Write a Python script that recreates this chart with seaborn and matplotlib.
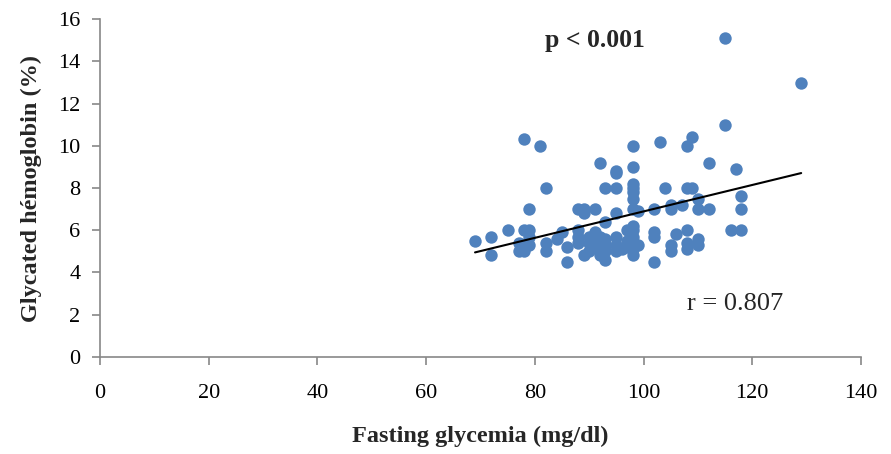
import numpy as np
import pandas as pd
import matplotlib
matplotlib.use("Agg")
import matplotlib.pyplot as plt
import seaborn as sns

# Fasting glycemia (mg/dl) vs glycated haemoglobin (%)
glycemia = [69, 72, 72, 75, 77, 77, 78, 78, 78, 79, 79, 79, 79, 81, 82, 82, 82,
            84, 85, 86, 86, 88, 88, 88, 88, 89, 89, 89, 90, 90, 90, 91, 91, 91,
            92, 92, 92, 92, 92, 93, 93, 93, 93, 93, 93, 95, 95, 95, 95, 95, 95,
            95, 96, 97, 97, 97, 98, 98, 98, 98, 98, 98, 98, 98, 98, 98, 98, 98,
            98, 99, 99, 102, 102, 102, 102, 103, 104, 105, 105, 105, 105, 106,
            107, 108, 108, 108, 108, 108, 109, 109, 110, 110, 110, 110, 112, 112,
            115, 115, 116, 117, 118, 118, 118, 129]
hba1c = [5.5, 5.7, 4.8, 6.0, 5.4, 5.0, 6.0, 5.0, 10.3, 7.0, 6.0, 5.7, 5.3, 10.0,
         8.0, 5.4, 5.0, 5.6, 5.9, 5.2, 4.5, 7.0, 6.0, 5.7, 5.4, 7.0, 6.8, 4.8,
         5.7, 5.4, 5.0, 7.0, 5.9, 5.3, 9.2, 5.7, 5.4, 5.0, 4.8, 8.0, 6.4, 5.6,
         5.3, 5.0, 4.6, 8.8, 8.7, 8.0, 6.8, 5.7, 5.3, 5.0, 5.1, 6.0, 5.5, 5.2,
         10.0, 9.0, 8.2, 8.0, 7.8, 7.5, 7.0, 6.2, 6.0, 5.7, 5.4, 5.1, 4.8, 6.9,
         5.3, 7.0, 5.9, 5.7, 4.5, 10.2, 8.0, 7.2, 7.0, 5.3, 5.0, 5.8, 7.2, 10.0,
         8.0, 6.0, 5.4, 5.1, 10.4, 8.0, 7.5, 7.0, 5.6, 5.3, 9.2, 7.0, 15.1, 11.0,
         6.0, 8.9, 7.6, 7.0, 6.0, 13.0]

x_ticks = [0, 20, 40, 60, 80, 100, 120, 140]
y_ticks = [0, 2, 4, 6, 8, 10, 12, 14, 16]

df = pd.DataFrame({"glycemia": glycemia, "hba1c": hba1c})

sns.set_style("white")
plt.rcParams["font.family"] = ["Liberation Serif", "DejaVu Serif"]

fig = plt.figure(figsize=(8.91, 4.54), dpi=100)
ax = fig.add_axes([0.1122, 0.2143, 0.8541, 0.7432])

sns.regplot(data=df, x="glycemia", y="hba1c", ax=ax, ci=None, truncate=True,
            scatter_kws={"s": 80, "color": "#4F81BD", "alpha": 1, "linewidths": 0},
            line_kws={"color": "black", "lw": 1.5})

ax.set_xlim(0, 140)
ax.set_ylim(0, 16)
ax.set_xticks(x_ticks)
ax.set_yticks(y_ticks)
ax.tick_params(axis="both", labelsize=16, colors="#888888", labelcolor="black",
               direction="out", length=6, width=1.2, left=True, bottom=True)
ax.tick_params(axis="x", pad=14)
ax.tick_params(axis="y", pad=8)
for side in ["top", "right"]:
    ax.spines[side].set_visible(False)
for side in ["left", "bottom"]:
    ax.spines[side].set_color("#888888")
    ax.spines[side].set_linewidth(1.2)

ax.set_xlabel("Fasting glycemia (mg/dl)", fontsize=17.5, fontweight="bold", labelpad=16)
ax.set_ylabel("Glycated hémoglobin (%)", fontsize=17.5, fontweight="bold", labelpad=12)

ax.text(91, 15.0, "p < 0.001", fontsize=18.5, fontweight="bold", ha="center", va="center")
ax.text(116.8, 2.5, "r = 0.807", fontsize=19, ha="center", va="center")

fig.savefig("out.png", dpi=100)
